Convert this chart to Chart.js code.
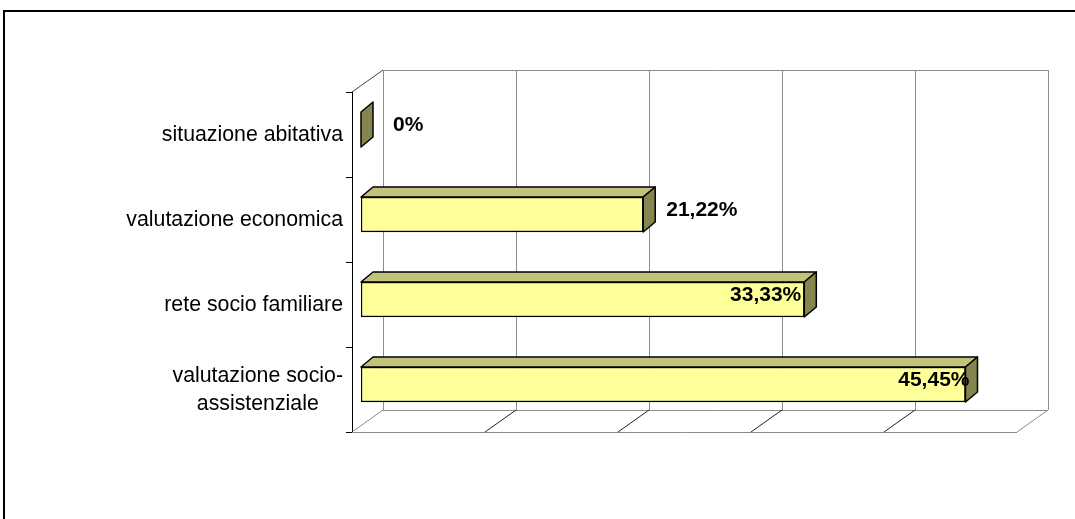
<!DOCTYPE html>
<html>
<head>
<meta charset="utf-8">
<script src="https://cdn.jsdelivr.net/npm/chart.js@4.4.1/dist/chart.umd.min.js"></script>
<style>
    html, body { margin: 0; padding: 0; background: #fff; overflow: hidden; }
</style>
</head>
<body>
<canvas id="chart" width="1075" height="519"></canvas>
<script>
const categories = ['situazione abitativa', 'valutazione economica', 'rete socio familiare', ['valutazione socio-', 'assistenziale']];
const values = [0, 21.22, 33.33, 45.45];
const valueLabels = ['0%', '21,22%', '33,33%', '45,45%'];
const axisMax = 50;
const axisStep = 10;

// pseudo-3d offsets, relative to the plane where the bars' front faces sit
const FRONT = { dx: -9, dy: 5 };
const BACK = { dx: 22, dy: -17 };
const BAR_DEPTH = { dx: 12, dy: -10 };
const labelOffset = [32, 23, -3, 4];
const labelAlign = ['left', 'left', 'right', 'right'];

function line(ctx, x1, y1, x2, y2) {
    ctx.beginPath();
    ctx.moveTo(x1, y1);
    ctx.lineTo(x2, y2);
    ctx.stroke();
}

function poly(ctx, pts, fill) {
    ctx.beginPath();
    ctx.moveTo(pts[0][0], pts[0][1]);
    pts.slice(1).forEach((p) => ctx.lineTo(p[0], p[1]));
    ctx.closePath();
    ctx.fillStyle = fill;
    ctx.fill();
    ctx.stroke();
}

const scene3d = {
    id: 'scene3d',
    beforeDatasetsDraw(chart) {
        const { ctx, chartArea: a, scales: { x, y } } = chart;
        const fl = a.left + FRONT.dx, ft = a.top + FRONT.dy, fb = a.bottom + FRONT.dy, fr = a.right + FRONT.dx;
        const bl = a.left + BACK.dx, bt = a.top + BACK.dy, bb = a.bottom + BACK.dy, br = a.right + BACK.dx;
        ctx.save();

        // outer frame
        ctx.strokeStyle = '#000';
        ctx.lineWidth = 2;
        line(ctx, 4, 11, 1075, 11);
        line(ctx, 4, 10, 4, 519);

        // back wall
        ctx.lineWidth = 1;
        ctx.strokeStyle = '#8c8c8c';
        for (let v = 0; v <= axisMax; v += axisStep) {
            const px = Math.round(x.getPixelForValue(v) + BACK.dx) + 0.5;
            line(ctx, px, bt, px, bb);
        }
        line(ctx, bl, bt + 0.5, br, bt + 0.5);

        // floor
        line(ctx, bl, bb + 0.5, br, bb + 0.5);
        line(ctx, fl, fb + 0.5, fr, fb + 0.5);
        line(ctx, fr, fb, br, bb);
        line(ctx, fl, fb, bl, bb);
        ctx.strokeStyle = '#202020';
        for (let v = axisStep; v < axisMax; v += axisStep) {
            const px = x.getPixelForValue(v);
            line(ctx, px + FRONT.dx, fb, px + BACK.dx, bb);
        }

        // left wall
        ctx.strokeStyle = '#404040';
        line(ctx, fl, ft, bl, bt);
        ctx.strokeStyle = '#000';
        line(ctx, fl + 0.5, ft, fl + 0.5, fb);
        const band = (y.getPixelForValue(1) - y.getPixelForValue(0));
        for (let i = 0; i <= categories.length; i++) {
            const py = Math.round(y.getPixelForValue(i) - band / 2 + FRONT.dy) + 0.5;
            line(ctx, fl - 6, py, fl, py);
        }
        ctx.restore();
    },
    afterDatasetsDraw(chart) {
        const { ctx, scales: { y } } = chart;
        const meta = chart.getDatasetMeta(0);
        ctx.save();
        ctx.strokeStyle = '#000';
        ctx.lineWidth = 1.5;
        ctx.lineJoin = 'round';
        meta.data.forEach((bar) => {
            const p = bar.getProps(['x', 'y', 'height', 'base'], true);
            const top = p.y - p.height / 2, bot = p.y + p.height / 2;
            const d = BAR_DEPTH;
            if (p.x - p.base > 0.5) {
                poly(ctx, [[p.base, top], [p.x, top], [p.x + d.dx, top + d.dy], [p.base + d.dx, top + d.dy]], '#c2c27a');
            }
            poly(ctx, [[p.x, top], [p.x + d.dx, top + d.dy], [p.x + d.dx, bot + d.dy], [p.x, bot]], '#85854f');
        });

        // value labels
        ctx.fillStyle = '#000';
        ctx.font = 'bold 21px "Liberation Sans", Arial, sans-serif';
        ctx.textBaseline = 'middle';
        meta.data.forEach((bar, i) => {
            ctx.textAlign = labelAlign[i];
            ctx.fillText(valueLabels[i], bar.x + labelOffset[i], bar.y - 4);
        });

        // category labels, centred line by line, right edge next to the axis
        ctx.font = '21.3px "Liberation Sans", Arial, sans-serif';
        ctx.textAlign = 'center';
        const rightEdge = chart.chartArea.left + FRONT.dx - 9;
        const lineH = 28;
        categories.forEach((c, i) => {
            const lines = Array.isArray(c) ? c : [c];
            const w = Math.max(...lines.map((s) => ctx.measureText(s).width));
            const cx = rightEdge - w / 2;
            const cy = y.getPixelForValue(i) + FRONT.dy + 1;
            lines.forEach((s, k) => {
                ctx.fillText(s, cx, cy + (k - (lines.length - 1) / 2) * lineH);
            });
        });
        ctx.restore();
    },
};

new Chart(document.getElementById('chart'), {
    type: 'bar',
    data: {
        labels: categories,
        datasets: [{
            data: values,
            backgroundColor: '#ffff99',
            borderColor: '#000',
            borderWidth: 1.5,
            borderSkipped: false,
            barThickness: 35,
        }],
    },
    options: {
        indexAxis: 'y',
        responsive: false,
        animation: false,
        layout: { padding: { left: 361, right: 49, top: 87, bottom: 92 } },
        plugins: { legend: { display: false }, tooltip: { enabled: false } },
        scales: {
            x: { display: false, min: 0, max: axisMax, ticks: { stepSize: axisStep } },
            y: { display: false },
        },
    },
    plugins: [scene3d],
});
</script>
</body>
</html>
